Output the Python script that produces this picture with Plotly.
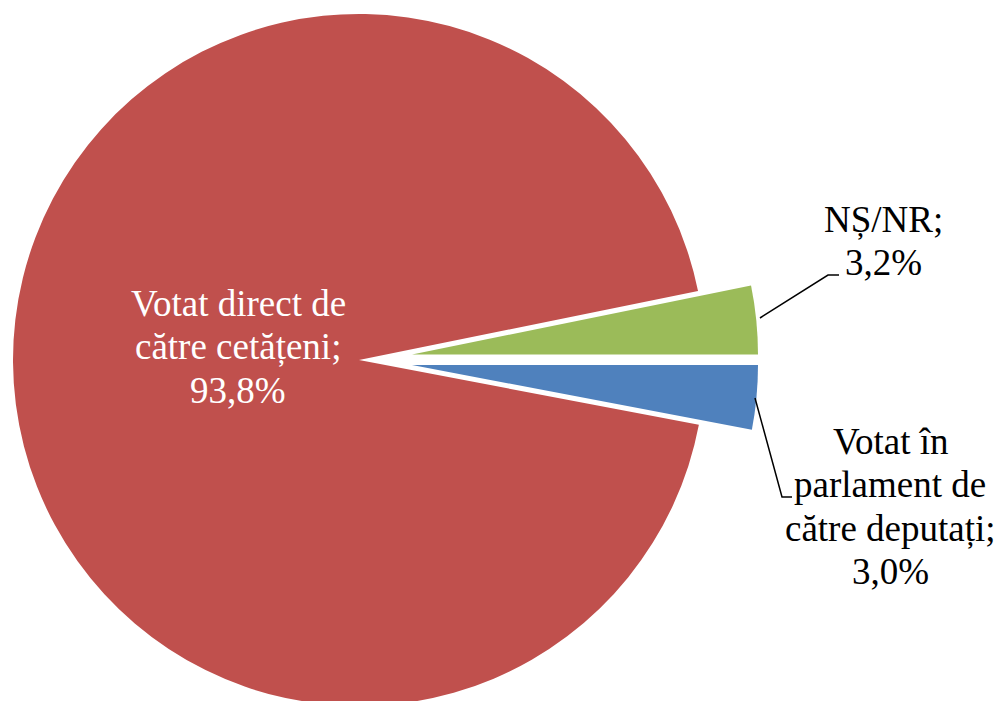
import plotly.graph_objects as go

# ---- data ----
categories = ["Votat în parlament de către deputați", "Votat direct de către cetățeni", "NȘ/NR"]
values = [3.0, 93.8, 3.2]
label_lines = [
    ["Votat în", "parlament de", "către deputați;"],
    ["Votat direct de", "către cetățeni;"],
    ["NȘ/NR;"],
]
colors = ["#4F81BD", "#C0504D", "#9BBB59"]

# page offset (browser body margin) and figure size
OFF = 8
W, H = 996, 730
R = 346
# slice centres in screen pixels (red not exploded, small slices exploded right)
centers = [(412, 365), (359, 360), (412, 354.5)]

def px_x(x):
    return (x - OFF) / W

def px_y(y):
    return 1 - (y - OFF) / H

fig = go.Figure()
for i in [1, 0, 2]:
    cx, cy = centers[i]
    cols = [colors[j] if j == i else "rgba(0,0,0,0)" for j in range(len(values))]
    fig.add_trace(go.Pie(
        labels=categories,
        values=values,
        sort=False,
        direction="clockwise",
        rotation=90,
        marker=dict(colors=cols, line=dict(width=0, color="white")),
        textinfo="none",
        hoverinfo="skip",
        showlegend=False,
        domain=dict(x=[max(0, px_x(cx - R)), min(1, px_x(cx + R))],
                    y=[max(0, px_y(cy + R)), min(1, px_y(cy - R))]),
    ))

def fmt(v):
    return f"{v:.1f}%".replace(".", ",")

FS = 37
LS = 43.5
font_family = "Liberation Serif, Times New Roman, serif"
# (centre x, first baseline y, colour) in screen pixels
label_pos = [(890, 454, "black"), (238, 316, "white"), (883, 232, "black")]
for i, (x, y0, col) in enumerate(label_pos):
    lines = label_lines[i] + [fmt(values[i])]
    for k, line in enumerate(lines):
        base = y0 + k * LS
        fig.add_annotation(
            x=px_x(x), y=px_y(base - 0.34 * FS), xref="paper", yref="paper",
            text=line, showarrow=False, xanchor="center", yanchor="middle",
            font=dict(family=font_family, size=FS, color=col),
        )

# leader lines
leaders = [
    [(755, 398), (782, 497), (792, 497)],
    [(760, 318), (828, 275), (839, 275)],
]
for pts in leaders:
    path = "M " + " L ".join(f"{px_x(x)},{px_y(y)}" for x, y in pts)
    fig.add_shape(type="path", path=path, xref="paper", yref="paper",
                  line=dict(color="black", width=1.5))

fig.update_layout(
    width=W, height=H,
    margin=dict(l=0, r=0, t=0, b=0),
    paper_bgcolor="white",
    plot_bgcolor="white",
)

fig.write_html("out.html")
